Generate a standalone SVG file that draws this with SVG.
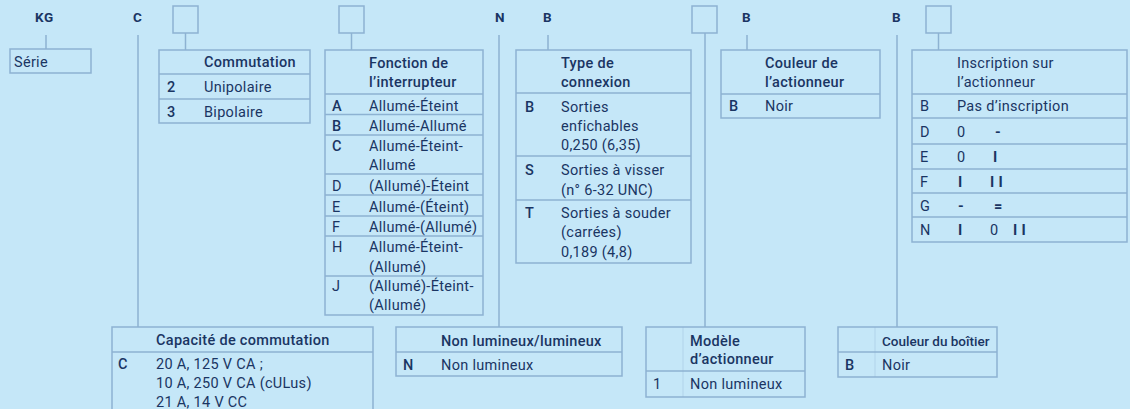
<svg xmlns="http://www.w3.org/2000/svg" width="1130" height="409" viewBox="0 0 1130 409">
<style>
text{font-family:Roboto,"Liberation Sans",sans-serif;font-size:14.5px;fill:#1a3563;letter-spacing:0.3px}
.h{font-weight:500}
.l{font-weight:500}
.s{font-weight:700}
.c{font-size:13.5px;font-weight:700;letter-spacing:0.5px}
.bx{fill:none;stroke:#8db2d2;stroke-width:1.5}
.rl{stroke:#8db2d2;stroke-width:1.5}
.sep{stroke:#8db2d2;stroke-width:1;opacity:0.35}
.cn{stroke:#8db2d2;stroke-width:1.5;fill:none}
.sq{fill:none;stroke:#8db2d2;stroke-width:1.5}
</style>
<rect x="0" y="0" width="1130" height="409" fill="#c5e7f8"/>

<g id="connectors">
<line class="cn" x1="46" y1="35" x2="46" y2="49"/>
<line class="cn" x1="138" y1="35" x2="138" y2="327"/>
<line class="cn" x1="185.5" y1="33" x2="185.5" y2="50"/>
<line class="cn" x1="351.5" y1="33" x2="351.5" y2="50"/>
<line class="cn" x1="499" y1="35" x2="499" y2="327"/>
<line class="cn" x1="548" y1="35" x2="548" y2="50"/>
<line class="cn" x1="705" y1="33" x2="705" y2="327"/>
<line class="cn" x1="747" y1="35" x2="747" y2="50"/>
<line class="cn" x1="897" y1="35" x2="897" y2="327"/>
<line class="cn" x1="938.5" y1="33" x2="938.5" y2="50"/>
</g>

<g id="code">
<text class="c" x="35" y="22">KG</text>
<text class="c" x="133" y="22">C</text>
<rect class="sq" x="173" y="6" width="25" height="27"/>
<rect class="sq" x="339" y="6" width="25" height="27"/>
<text class="c" x="495" y="22">N</text>
<text class="c" x="543" y="22">B</text>
<rect class="sq" x="692" y="6" width="25" height="27"/>
<text class="c" x="742" y="22">B</text>
<text class="c" x="892" y="22">B</text>
<rect class="sq" x="926" y="6" width="25" height="27"/>
</g>

<g id="serie">
<rect class="bx" x="10" y="49" width="81" height="24"/>
<text x="14" y="67">Série</text>
</g>

<g id="commutation">
<rect class="bx" x="159" y="50" width="151" height="73"/>
<line class="rl" x1="159" y1="74" x2="310" y2="74"/>
<line class="rl" x1="159" y1="99" x2="310" y2="99"/>
<text class="h" x="204" y="67">Commutation</text>
<text class="l" x="167" y="92">2</text><text x="204" y="92">Unipolaire</text>
<text class="l" x="167" y="117">3</text><text x="204" y="117">Bipolaire</text>
</g>

<g id="fonction">
<rect class="bx" x="325" y="50" width="158" height="265"/>
<line class="rl" x1="325" y1="94" x2="483" y2="94"/>
<line class="rl" x1="325" y1="114.5" x2="483" y2="114.5"/>
<line class="rl" x1="325" y1="135" x2="483" y2="135"/>
<line class="rl" x1="325" y1="174" x2="483" y2="174"/>
<line class="rl" x1="325" y1="195" x2="483" y2="195"/>
<line class="rl" x1="325" y1="216" x2="483" y2="216"/>
<line class="rl" x1="325" y1="236" x2="483" y2="236"/>
<line class="rl" x1="325" y1="276" x2="483" y2="276"/>
<text class="h" x="369" y="68">Fonction de</text>
<text class="h" x="369" y="87">l’interrupteur</text>
<text class="l" x="332" y="110.5">A</text><text x="369" y="110.5">Allumé-Éteint</text>
<text class="l" x="332" y="131">B</text><text x="369" y="131">Allumé-Allumé</text>
<text class="l" x="332" y="151">C</text><text x="369" y="151">Allumé-Éteint-</text><text x="369" y="170">Allumé</text>
<text x="332" y="190.5">D</text><text x="369" y="190.5">(Allumé)-Éteint</text>
<text x="332" y="211.5">E</text><text x="369" y="211.5">Allumé-(Éteint)</text>
<text x="332" y="232">F</text><text x="369" y="232">Allumé-(Allumé)</text>
<text x="332" y="252">H</text><text x="369" y="252">Allumé-Éteint-</text><text x="369" y="271.5">(Allumé)</text>
<text x="332" y="291">J</text><text x="369" y="291">(Allumé)-Éteint-</text><text x="369" y="310">(Allumé)</text>
</g>

<g id="connexion">
<rect class="bx" x="516" y="50" width="175" height="213"/>
<line class="rl" x1="516" y1="93" x2="691" y2="93"/>
<line class="rl" x1="516" y1="156" x2="691" y2="156"/>
<line class="rl" x1="516" y1="200" x2="691" y2="200"/>
<text class="h" x="561" y="68">Type de</text>
<text class="h" x="561" y="87">connexion</text>
<text class="l" x="525" y="112">B</text><text x="561" y="112">Sorties</text><text x="561" y="131">enfichables</text><text x="561" y="150">0,250 (6,35)</text>
<text class="l" x="525" y="175">S</text><text x="561" y="175">Sorties à visser</text><text x="561" y="195">(n° 6-32 UNC)</text>
<text class="l" x="525" y="218">T</text><text x="561" y="218">Sorties à souder</text><text x="561" y="237">(carrées)</text><text x="561" y="257">0,189 (4,8)</text>
</g>

<g id="couleur-actionneur">
<rect class="bx" x="721" y="50" width="159" height="68"/>
<line class="rl" x1="721" y1="94" x2="880" y2="94"/>
<text class="h" x="765" y="68">Couleur de</text>
<text class="h" x="765" y="87">l’actionneur</text>
<text class="l" x="729" y="111">B</text><text x="765" y="111">Noir</text>
</g>

<g id="inscription">
<rect class="bx" x="912" y="50" width="215" height="192"/>
<line class="rl" x1="912" y1="94" x2="1127" y2="94"/>
<line class="rl" x1="912" y1="118" x2="1127" y2="118"/>
<line class="rl" x1="912" y1="144" x2="1127" y2="144"/>
<line class="rl" x1="912" y1="169" x2="1127" y2="169"/>
<line class="rl" x1="912" y1="193" x2="1127" y2="193"/>
<line class="rl" x1="912" y1="217" x2="1127" y2="217"/>
<text x="957" y="68">Inscription sur</text>
<text x="957" y="87">l’actionneur</text>
<text x="920" y="111">B</text><text x="957" y="111">Pas d’inscription</text>
<text x="920" y="137">D</text><text x="957" y="137">0</text><text class="s" x="995" y="137">-</text>
<text x="920" y="162">E</text><text x="957" y="162">0</text><text class="s" x="993" y="162">I</text>
<text x="920" y="187">F</text><text class="s" x="958" y="187">I</text><text class="s" x="990" y="187">I I</text>
<text x="920" y="211">G</text><text class="s" x="958" y="211">-</text><text class="s" x="994" y="211">=</text>
<text x="920" y="235">N</text><text class="s" x="958" y="235">I</text><text x="990" y="235">0</text><text class="s" x="1013" y="235">I I</text>
</g>

<g id="capacite">
<rect class="bx" x="112" y="327" width="261" height="95"/>
<line class="rl" x1="112" y1="352" x2="373" y2="352"/>
<text class="h" x="156" y="345">Capacité de commutation</text>
<text class="l" x="118" y="369">C</text>
<text x="156" y="369">20 A, 125 V CA ;</text>
<text x="156" y="388">10 A, 250 V CA (cULus)</text>
<text x="156" y="407">21 A, 14 V CC</text>
</g>

<g id="lumineux">
<rect class="bx" x="396" y="327" width="226" height="49"/>
<line class="rl" x1="396" y1="352" x2="622" y2="352"/>
<text class="h" x="441" y="346">Non lumineux/lumineux</text>
<text class="l" x="403" y="370">N</text><text x="441" y="370">Non lumineux</text>
</g>

<g id="modele">
<rect class="bx" x="646" y="327" width="159" height="70"/>
<line class="rl" x1="646" y1="371" x2="805" y2="371"/>
<line class="sep" x1="683" y1="327" x2="683" y2="397"/>
<text class="h" x="690" y="346">Modèle</text>
<text class="h" x="690" y="364">d’actionneur</text>
<text x="653" y="389">1</text><text x="690" y="389">Non lumineux</text>
</g>

<g id="boitier">
<rect class="bx" x="838" y="327" width="159" height="50"/>
<line class="rl" x1="838" y1="352" x2="997" y2="352"/>
<line class="sep" x1="875" y1="327" x2="875" y2="377"/>
<text class="h" x="882" y="346" style="font-size:13.5px;letter-spacing:0">Couleur du boîtier</text>
<text class="l" x="845" y="370">B</text><text x="882" y="370">Noir</text>
</g>
</svg>
